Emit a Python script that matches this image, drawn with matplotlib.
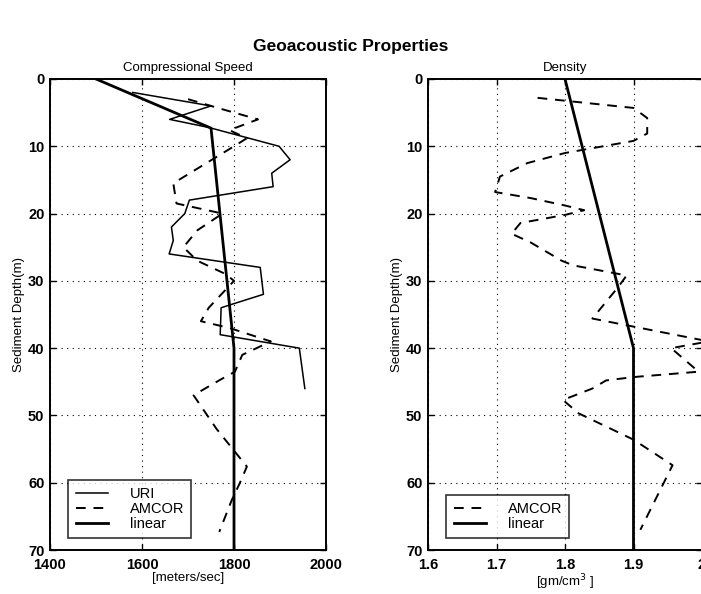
import matplotlib.pyplot as plt
from matplotlib.ticker import FixedLocator, FixedFormatter

plt.rcParams["font.family"] = ["Liberation Sans", "DejaVu Sans"]

# compressional speed panel (m/s vs depth m)
uri_depth = [2, 4, 6, 7.2, 10, 12, 14, 16, 18, 20, 22, 24, 26, 28, 32, 33.6, 34, 38, 40, 46]
uri_speed = [1580, 1750, 1660, 1745, 1898, 1922, 1882, 1885, 1703, 1693, 1664, 1668, 1659,
             1857, 1864, 1790, 1772, 1770, 1942, 1954]

amcor_depth = [3, 4.5, 6, 7.6, 8.8, 10, 15.5, 18.5, 20, 22.5, 25, 27, 29, 30, 34, 36, 37,
               39, 41, 43.5, 44.7, 47, 52, 55.4, 57.6, 60, 62.6, 67.3]
amcor_speed = [1700, 1775, 1852, 1790, 1828, 1800, 1668, 1675, 1775, 1720, 1690, 1720,
               1782, 1800, 1745, 1728, 1790, 1880, 1818, 1802, 1770, 1712, 1762, 1802,
               1828, 1813, 1795, 1768]

lin_speed_depth = [0, 7.3, 40, 70]
lin_speed = [1500, 1750, 1800, 1800]

# density panel (gm/cm^3 vs depth m)
dens_depth = [2.8, 4.3, 5.8, 8.1, 9.2, 11, 12.5, 14.5, 16.8, 17.7, 18.8, 19.5, 20.2, 21.4,
              23, 24.3, 27, 27.7, 29.2, 31, 35.6, 36.8, 39, 40, 43.5, 44.3, 44.8, 46,
              47.7, 49.7, 53.6, 57.4, 67]
dens_amcor = [1.76, 1.90, 1.92, 1.92, 1.90, 1.80, 1.745, 1.705, 1.698, 1.75, 1.80, 1.828,
              1.80, 1.735, 1.722, 1.75, 1.795, 1.812, 1.89, 1.877, 1.84, 1.90, 2.01, 1.955,
              1.995, 1.90, 1.86, 1.84, 1.797, 1.82, 1.90, 1.957, 1.91]

lin_dens_depth = [0, 40, 70]
lin_dens = [1.8, 1.9, 1.9]

depth_ticks = [0, 10, 20, 30, 40, 50, 60, 70]
speed_ticks = [1400, 1600, 1800, 2000]
dens_ticks = [1.6, 1.7, 1.8, 1.9, 2.0]
dens_labels = ["1.6", "1.7", "1.8", "1.9", "2"]


def style_axes(ax, xticks, xlabels, xlim):
    ax.set_xlim(xlim)
    ax.set_ylim(70, 0)
    ax.xaxis.set_major_locator(FixedLocator(xticks))
    ax.xaxis.set_major_formatter(FixedFormatter(xlabels))
    ax.yaxis.set_major_locator(FixedLocator(depth_ticks))
    ax.tick_params(direction="in", top=True, right=True, length=4, width=1,
                   labelsize=10.5)
    ax.tick_params(axis="x", pad=6)
    ax.tick_params(axis="y", pad=4)
    for lab in ax.get_xticklabels() + ax.get_yticklabels():
        lab.set_fontweight("bold")
    ax.grid(True, linestyle=(0, (1, 4)), color="black", linewidth=0.8)
    for sp in ax.spines.values():
        sp.set_linewidth(1.4)
    ax.set_ylabel("Sediment Depth(m)", fontsize=9.5, labelpad=2)


fig = plt.figure(figsize=(7.01, 5.94), dpi=100)
fig.text(0.5, 0.921, "Geoacoustic Properties", ha="center", va="center",
         fontsize=12.5, fontweight="bold")

ax1 = fig.add_axes([50 / 701, 44 / 594, 276 / 701, 471 / 594])
ax1.plot(uri_speed, uri_depth, color="black", lw=1.1, label="URI")
ax1.plot(amcor_speed, amcor_depth, color="black", lw=1.4, ls=(0, (5, 4)), label="AMCOR")
ax1.plot(lin_speed, lin_speed_depth, color="black", lw=2.0, label="linear")
style_axes(ax1, speed_ticks, [str(v) for v in speed_ticks], (1400, 2000))
ax1.set_title("Compressional Speed", fontsize=9.5, pad=6)
ax1.set_xlabel("[meters/sec]", fontsize=9.5, labelpad=0)
leg1 = ax1.legend(loc="lower left", bbox_to_anchor=(0.04, 0.01), fontsize=10.5,
                  frameon=True, fancybox=False, edgecolor="black", handlelength=2.2,
                  labelspacing=0.05, borderpad=0.5, handletextpad=1.5)
leg1.get_frame().set_linewidth(1.2)

ax2 = fig.add_axes([428 / 701, 44 / 594, 274 / 701, 471 / 594])
ax2.plot(dens_amcor, dens_depth, color="black", lw=1.4, ls=(0, (5, 4)), label="AMCOR")
ax2.plot(lin_dens, lin_dens_depth, color="black", lw=2.0, label="linear")
style_axes(ax2, dens_ticks, dens_labels, (1.6, 2.0))
ax2.set_title("Density", fontsize=9.5, pad=6)
ax2.set_xlabel("[gm/cm$^3$ ]", fontsize=9.5, labelpad=0)
leg2 = ax2.legend(loc="lower left", bbox_to_anchor=(0.04, 0.01), fontsize=10.5,
                  frameon=True, fancybox=False, edgecolor="black", handlelength=2.2,
                  labelspacing=0.05, borderpad=0.5, handletextpad=1.5)
leg2.get_frame().set_linewidth(1.2)

fig.savefig("out.png", dpi=100)
